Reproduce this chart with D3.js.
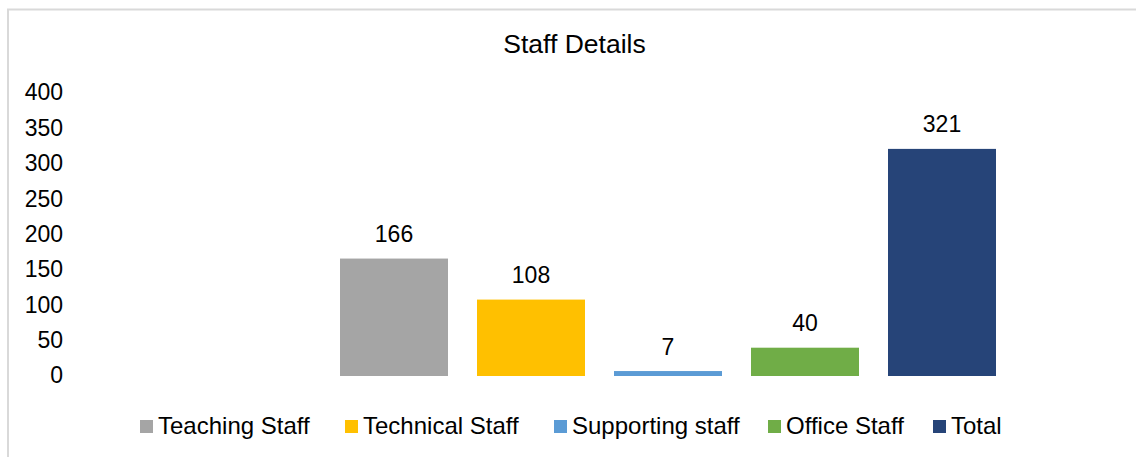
<!DOCTYPE html>
<html>
<head>
<meta charset="utf-8">
<script src="https://cdn.jsdelivr.net/npm/d3@7"></script>
<style>
  body { margin: 0; background: #fff; }
  svg text { font-family: "Liberation Sans", Arial, sans-serif; fill: #000; }
</style>
</head>
<body>
<div id="chart"></div>
<script>
// data
var seriesNames = ["Teaching Staff", "Technical Staff", "Supporting staff", "Office Staff", "Total"];
var seriesValues = [166, 108, 7, 40, 321];
var seriesColors = ["#a5a5a5", "#ffc000", "#5b9bd5", "#70ad47", "#264478"];
var yTicks = [0, 50, 100, 150, 200, 250, 300, 350, 400];

var svgWidth = 1136;
var svgHeight = 457;

var svg = d3.select("#chart")
  .append("svg")
  .attr("width", svgWidth)
  .attr("height", svgHeight);

// chart border
svg.append("rect")
  .attr("x", 8)
  .attr("y", 9.5)
  .attr("width", 1140)
  .attr("height", 460)
  .attr("fill", "none")
  .attr("stroke", "#d9d9d9")
  .attr("stroke-width", 2);

// title
svg.append("text")
  .attr("x", 574.5)
  .attr("y", 53)
  .attr("text-anchor", "middle")
  .attr("font-size", 26.5)
  .text("Staff Details");

// scales
var step = 137;
var xScale = d3.scaleBand()
  .domain(seriesNames)
  .range([325.5, 1010.5])
  .paddingInner(29 / step)
  .paddingOuter(14.5 / step);

var yScale = d3.scaleLinear()
  .domain([0, 400])
  .range([376, 93]);

// y axis, labels only
var yAxis = d3.axisLeft(yScale).tickValues(yTicks).tickSize(0).tickPadding(0);
var yG = svg.append("g")
  .attr("transform", "translate(63,0)")
  .call(yAxis);
yG.select(".domain").remove();
yG.selectAll("text")
  .attr("font-size", 23)
  .attr("font-family", "Liberation Sans, Arial, sans-serif")
  .attr("fill", "#000")
  .attr("dy", "0.3em");

// bars
var data = seriesNames.map(function(n, i) {
  return { name: n, value: seriesValues[i], color: seriesColors[i] };
});

svg.selectAll("rect.bar")
  .data(data)
  .enter()
  .append("rect")
  .attr("class", "bar")
  .attr("x", d => xScale(d.name))
  .attr("y", d => yScale(d.value))
  .attr("width", xScale.bandwidth())
  .attr("height", d => yScale(0) - yScale(d.value))
  .attr("fill", d => d.color);

// data labels
svg.selectAll("text.lbl")
  .data(data)
  .enter()
  .append("text")
  .attr("class", "lbl")
  .attr("x", d => xScale(d.name) + xScale.bandwidth() / 2)
  .attr("y", d => yScale(d.value) - 16.5)
  .attr("text-anchor", "middle")
  .attr("font-size", 23)
  .text(d => d.value);

// legend
var legendX = [140, 345, 554, 768, 933];
var legend = svg.selectAll("g.legend")
  .data(data)
  .enter()
  .append("g")
  .attr("class", "legend")
  .attr("transform", (d, i) => `translate(${legendX[i]}, 420)`);

legend.append("rect")
  .attr("width", 13)
  .attr("height", 13)
  .attr("fill", d => d.color);

legend.append("text")
  .attr("x", 18)
  .attr("y", 14)
  .attr("font-size", 24)
  .text(d => d.name);
</script>
</body>
</html>
